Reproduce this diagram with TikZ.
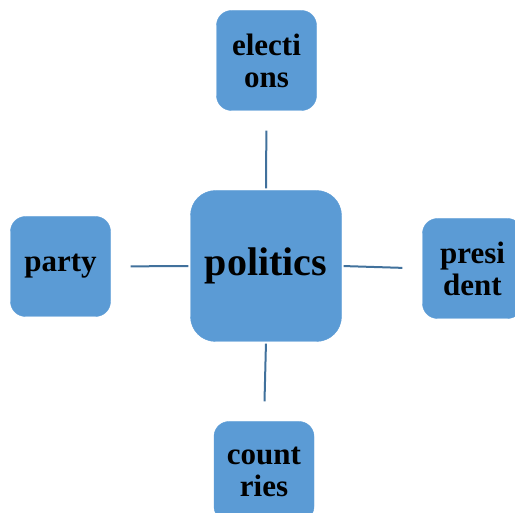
\documentclass[tikz,border=0pt]{standalone}
\usepackage{fontspec}
\setmainfont{Liberation Serif}
\definecolor{boxblue}{HTML}{5B9BD5}
\definecolor{lineblue}{HTML}{41719C}
\begin{document}
\begin{tikzpicture}
[x=1pt,y=1pt,
 topic/.style = {fill = boxblue, draw = boxblue, rounded corners = 15pt, inner sep = 0pt,
   minimum width = 100pt, minimum height = 100pt, align = center,
   font = \fontsize{31}{32}\selectfont\bfseries},
 hub/.style = {topic, rounded corners = 25pt, minimum width = 151pt, minimum height = 151pt,
   font = \fontsize{40}{42}\selectfont\bfseries},
 link/.style = {draw = lineblue, line width = 2pt, shorten <= 20pt, shorten >= 2pt},]

\useasboundingbox (0,0) rectangle (515,513);

\node (politics) at (266,247)[hub] {politics};
\node (elections) at (266.5,452.5)[topic] {electi\\ons};
\node (party) at (60.5,246.5)[topic] {party};
\node (president) at (472.5,244.5)[topic] {presi\\dent};
\node (countries) at (264,41.5)[topic] {count\\ries};

\draw [link] (elections.south)--(politics.north);
\draw [link] (party.east)--(politics.west);
\draw [link] (president.west)--(politics.east);
\draw [link] (countries.north)--(politics.south);

\end{tikzpicture}
\end{document}
